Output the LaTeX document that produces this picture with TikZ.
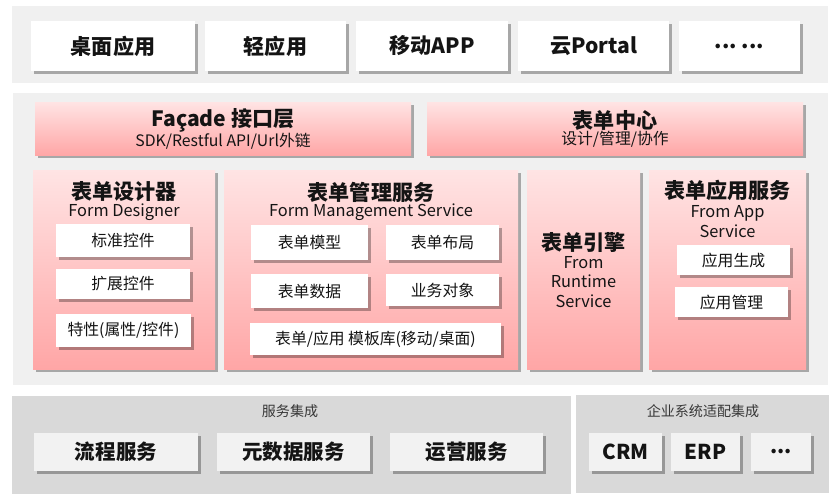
\documentclass[tikz,border=0pt]{standalone}
\usepackage{fontspec}
\setmainfont{Noto Sans CJK SC}
\usetikzlibrary{shadows}
\definecolor{bandgray}{RGB}{240,240,240}
\definecolor{basegray}{RGB}{217,217,217}
\definecolor{boxgray}{RGB}{242,242,242}
\definecolor{pinktop}{RGB}{255,228,228}
\definecolor{pinkbot}{RGB}{255,166,166}
\definecolor{inktext}{RGB}{20,20,20}
\newcommand\layerhead{\fontsize{18}{21}\selectfont\bfseries}
\newcommand\layersub{\fontsize{13.5}{16.5}\selectfont\mdseries}
\begin{document}
\begin{tikzpicture}[
  box/.style={rectangle, inner sep=0pt, text=inktext, drop shadow={shadow xshift=2.5pt, shadow yshift=-2.5pt, fill=black, opacity=0.3}},
  appbox/.style={box, fill=white, minimum height=1.5cm, font=\fontsize{18}{21}\selectfont\bfseries},
  panel/.style={box, top color=pinktop, bottom color=pinkbot, minimum width=11.28cm, minimum height=1.6cm, align=center},
  colpanel/.style={box, top color=pinktop, bottom color=pinkbot, minimum height=5.97cm},
  itembox/.style={box, fill=white, font=\fontsize{13.5}{15}\selectfont},
  svcbox/.style={box, fill=boxgray, minimum height=1.14cm, font=\fontsize{17.5}{20}\selectfont\bfseries},
  coltitle/.style={text=inktext, font=\layerhead},
  colsub/.style={text=inktext, font=\fontsize{14}{16.5}\selectfont, align=center},
  grouplabel/.style={text=inktext!85, font=\fontsize{12}{14}\selectfont}
]
\useasboundingbox (0,0) rectangle (25.02,-15.06);
% Bands
\fill[bandgray] (0.36,-0.18) rectangle (24.84,-2.49);
\fill[bandgray] (0.39,-2.79) rectangle (24.84,-11.55);
\fill[basegray] (0.36,-11.88) rectangle (17.13,-14.82);
\fill[basegray] (17.28,-11.85) rectangle (24.87,-14.79);
% Applications
\node[appbox, minimum width=4.92cm] (desk) at (3.39,-1.38) {桌面应用};
\node[appbox, minimum width=4.23cm] (light) at (8.265,-1.38) {轻应用};
\node[appbox, minimum width=4.56cm] (mobile) at (12.96,-1.38) {移动APP};
\node[appbox, minimum width=4.53cm] (portal) at (17.805,-1.38) {云Portal};
\node[appbox, minimum width=3.63cm] (moreapp) at (22.185,-1.38) {...\ ...};
% Facade and form center
\node[panel] (facade) at (6.69,-3.86) {{\layerhead Façade 接口层}\\{\layersub SDK/Restful API/Url外链}};
\node[panel] (formcenter) at (18.45,-3.86) {{\layerhead 表单中心}\\{\layersub 设计/管理/协作}};
% Columns
\node[colpanel, minimum width=5.46cm] (designer) at (3.72,-8.085) {};
\node[colpanel, minimum width=8.82cm] (manage) at (11.13,-8.085) {};
\node[colpanel, minimum width=3.39cm] (engine) at (17.505,-8.085) {};
\node[colpanel, minimum width=4.71cm] (appsvc) at (21.825,-8.085) {};
% Form designer
\node[coltitle] (designerhead) at (3.72,-5.76) {表单设计器};
\node[colsub] (designersub) at (3.72,-6.36) {Form Designer};
\node[itembox, minimum width=4.02cm, minimum height=1cm] (stdctl) at (3.69,-7.215) {标准控件};
\node[itembox, minimum width=4.02cm, minimum height=0.9cm] (extctl) at (3.69,-8.52) {扩展控件};
\node[itembox, minimum width=4.05cm, minimum height=1cm] (props) at (3.705,-9.915) {特性(属性/控件)};
% Form management service
\node[coltitle] (managehead) at (11.13,-5.76) {表单管理服务};
\node[colsub] (managesub) at (11.13,-6.36) {Form Management Service};
\node[itembox, minimum width=3.51cm, minimum height=1.05cm] (model) at (9.285,-7.275) {表单模型};
\node[itembox, minimum width=3.39cm, minimum height=1.05cm] (layout) at (13.275,-7.275) {表单布局};
\node[itembox, minimum width=3.51cm, minimum height=1.02cm] (formdata) at (9.285,-8.73) {表单数据};
\node[itembox, minimum width=3.39cm, minimum height=0.96cm] (bizobj) at (13.275,-8.7) {业务对象};
\node[itembox, minimum width=7.53cm, minimum height=0.96cm] (templates) at (11.265,-10.17) {表单/应用 模板库(移动/桌面)};
% Form engine
\node[coltitle] (enginehead) at (17.505,-7.26) {表单引擎};
\node[colsub] (enginesub) at (17.505,-8.46) {From\\Runtime\\Service};
% Form application service
\node[coltitle] (appsvchead) at (21.825,-5.7) {表单应用服务};
\node[colsub] (appsvcsub) at (21.825,-6.645) {From App\\Service};
\node[itembox, minimum width=3.39cm, minimum height=0.9cm] (appgen) at (22.005,-7.8) {应用生成};
\node[itembox, minimum width=3.39cm, minimum height=0.9cm] (appmgmt) at (21.945,-9.06) {应用管理};
% Service integration
\node[grouplabel] (svclabel) at (8.7,-12.33) {服务集成};
\node[svcbox, minimum width=4.92cm] (flow) at (3.48,-13.56) {流程服务};
\node[svcbox, minimum width=4.59cm] (meta) at (8.805,-13.56) {元数据服务};
\node[svcbox, minimum width=4.59cm] (ops) at (13.995,-13.56) {运营服务};
% Enterprise adapters
\node[grouplabel] (entlabel) at (21.09,-12.33) {企业系统适配集成};
\node[svcbox, minimum width=2.19cm] (crm) at (18.765,-13.56) {CRM};
\node[svcbox, minimum width=2.07cm] (erp) at (21.165,-13.56) {ERP};
\node[svcbox, minimum width=1.8cm] (moreent) at (23.43,-13.56) {...};
\end{tikzpicture}
\end{document}
